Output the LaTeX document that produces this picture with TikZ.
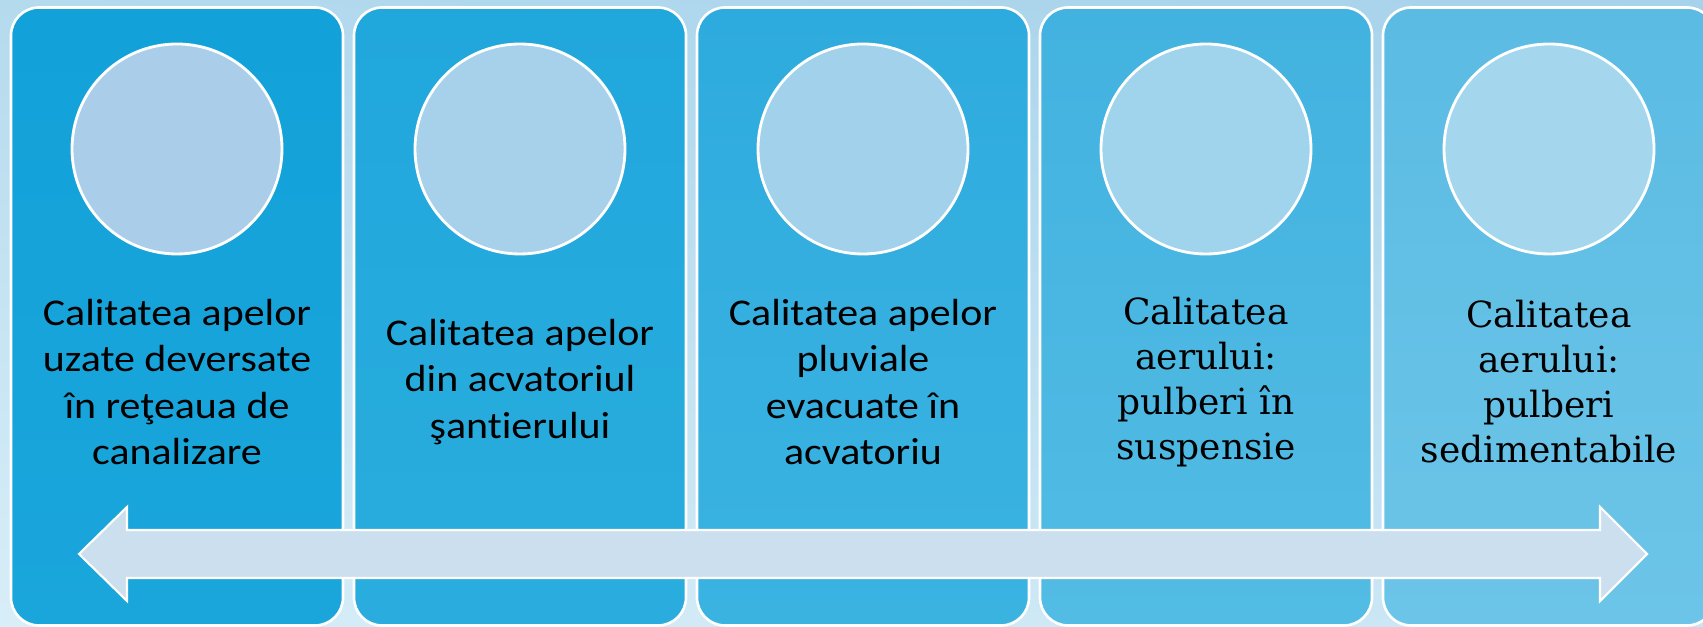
\documentclass[tikz,border=0pt]{standalone}
\usepackage{fontspec}
\usepackage{tikz}
\usetikzlibrary{positioning,shadings}
\newfontfamily\calfont[FakeStretch=1.11, RawFeature={-liga;-clig;-dlig}]{Carlito}
\newfontfamily\geofont{DejaVu Serif}
\definecolor{bgA}{HTML}{D8EEF8}
\definecolor{bgB}{HTML}{A6D2EB}
\definecolor{bgC}{HTML}{B4DAEE}
\definecolor{bgD}{HTML}{C8E5F4}
\definecolor{panOneT}{HTML}{12A1D9}
\definecolor{panOneB}{HTML}{1AA6DB}
\definecolor{panTwoT}{HTML}{20A7DC}
\definecolor{panTwoB}{HTML}{2AADDE}
\definecolor{panThrT}{HTML}{2EABDE}
\definecolor{panThrB}{HTML}{3AB3E1}
\definecolor{panFouT}{HTML}{42B2E0}
\definecolor{panFouB}{HTML}{52BCE4}
\definecolor{panFivT}{HTML}{5BBBE3}
\definecolor{panFivB}{HTML}{6CC5E8}
\definecolor{discOne}{HTML}{AACEE9}
\definecolor{discTwo}{HTML}{A7D0EB}
\definecolor{discThr}{HTML}{A1D1EB}
\definecolor{discFou}{HTML}{A0D3EC}
\definecolor{discFiv}{HTML}{A4D7EE}
\definecolor{arrowfill}{HTML}{CCDFEF}
\tikzset{panel/.style={draw=white, line width=1.5pt, rounded corners=0.56cm,
  minimum width=6.64cm, minimum height=12.36cm, inner sep=0pt}}
\tikzset{disc/.style={circle, draw=white, line width=1.6pt, minimum size=4.2cm, inner sep=0pt}}
\tikzset{sanstext/.style={align=center, inner sep=0pt, font=\calfont\fontsize{21.5}{26.5}\selectfont}}
\tikzset{seriftext/.style={align=center, inner sep=0pt, font=\geofont\fontsize{20.5}{25.6}\selectfont}}

\begin{document}
\begin{tikzpicture}
\pgfmathsetmacro{\PANY}{6.21}
\pgfmathsetmacro{\DISCY}{9.56}
\pgfmathsetmacro{\TXTY}{4.90}
\path[use as bounding box, clip] (0,0) rectangle (34.06,12.54);
\shade[lower left=bgA, upper left=bgC, upper right=bgB, lower right=bgD] (0,0) rectangle (34.06,12.54);
% panels
\node[panel, top color=panOneT, bottom color=panOneB] (p1) at (3.54,\PANY) {};
\node[panel, top color=panTwoT, bottom color=panTwoB] (p2) at (10.40,\PANY) {};
\node[panel, top color=panThrT, bottom color=panThrB] (p3) at (17.26,\PANY) {};
\node[panel, top color=panFouT, bottom color=panFouB] (p4) at (24.12,\PANY) {};
\node[panel, top color=panFivT, bottom color=panFivB] (p5) at (30.98,\PANY) {};
% circles
\node[disc, fill=discOne] (c1) at (3.54,\DISCY) {};
\node[disc, fill=discTwo] (c2) at (10.40,\DISCY) {};
\node[disc, fill=discThr] (c3) at (17.26,\DISCY) {};
\node[disc, fill=discFou] (c4) at (24.12,\DISCY) {};
\node[disc, fill=discFiv] (c5) at (30.98,\DISCY) {};
% texts
\node[sanstext] (t1) at (3.54,\TXTY) {Calitatea apelor\\uzate deversate\\în reţeaua de\\canalizare};
\node[sanstext] (t2) at (10.40,\TXTY) {Calitatea apelor\\din acvatoriul\\şantierului};
\node[sanstext] (t3) at (17.26,\TXTY) {Calitatea apelor\\pluviale\\evacuate în\\acvatoriu};
\node[seriftext] (t4) at (24.12,\TXTY) {Calitatea\\aerului:\\pulberi în\\suspensie};
\node[seriftext] (t5) at (30.98,\TXTY) {Calitatea\\aerului:\\pulberi\\sedimentabile};
% double arrow
\draw[white, line width=1.2pt, fill=arrowfill] (1.58,1.46) -- (2.54,2.40) -- (2.54,1.94)
 -- (32.00,1.94) -- (32.00,2.40) -- (32.94,1.46) -- (32.00,0.52) -- (32.00,0.98)
 -- (2.54,0.98) -- (2.54,0.52) -- cycle;
\end{tikzpicture}
\end{document}
